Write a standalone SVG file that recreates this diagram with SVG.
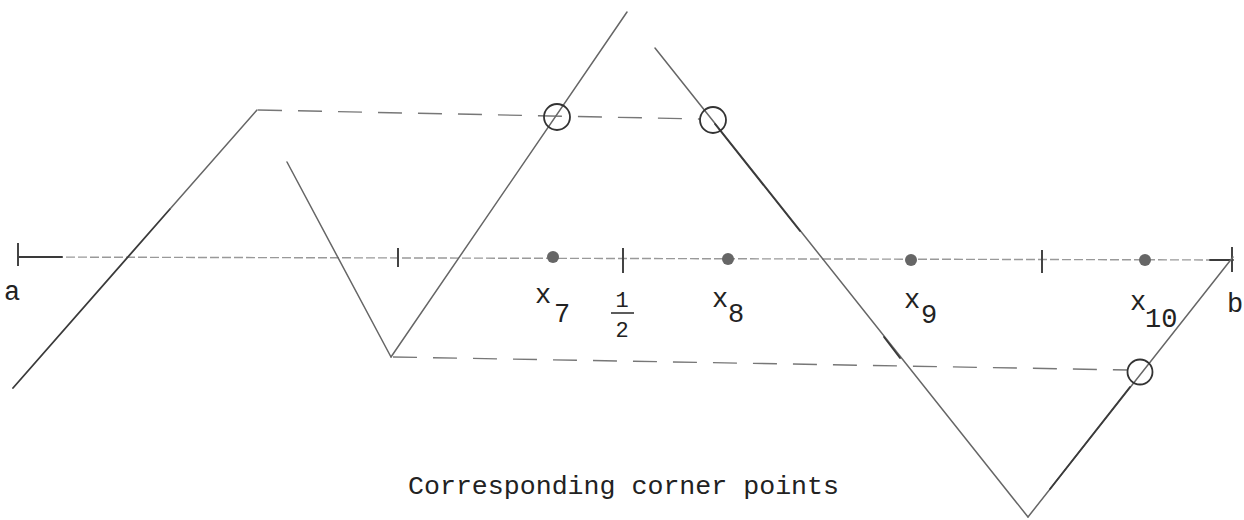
<svg xmlns="http://www.w3.org/2000/svg" width="1244" height="520" viewBox="0 0 1244 520">
<style>
.ln{fill:none;stroke:#666;stroke-width:1.5;stroke-linecap:round}
.dk{fill:none;stroke:#3a3a3a;stroke-width:1.8;stroke-linecap:round}
.dash{fill:none;stroke:#777;stroke-width:1.4;stroke-dasharray:24 16}
.axis{fill:none;stroke:#999;stroke-width:1.4;stroke-dasharray:9 3}
.tick{stroke:#444;stroke-width:2}
.ring{fill:none;stroke:#333;stroke-width:1.8}
.dot{fill:#666}
text{font-family:"Liberation Mono","Courier New",monospace;fill:#222}
.lab{font-size:27px}
.frac{font-size:22px}
.title{font-size:26px}
</style>
<rect width="1244" height="520" fill="#fff"/>
<g id="axis">
<line class="axis" x1="18" y1="257" x2="1233" y2="260"/>
<line class="dk" x1="18" y1="257" x2="62" y2="257"/>
<line class="tick" x1="18" y1="243" x2="18" y2="266"/>
<line class="tick" x1="398" y1="248" x2="398" y2="267"/>
<line class="tick" x1="623" y1="248" x2="623" y2="273"/>
<line class="tick" x1="1042" y1="250" x2="1042" y2="273"/>
<line class="dk" x1="1210" y1="260" x2="1233" y2="260"/>
<line class="tick" x1="1232" y1="247" x2="1232" y2="272"/>
<circle class="dot" cx="553" cy="257" r="6"/>
<circle class="dot" cx="728" cy="259" r="6"/>
<circle class="dot" cx="911" cy="260" r="6"/>
<circle class="dot" cx="1145" cy="260" r="6"/>
</g>
<g id="connectors">
<line class="dk" x1="13" y1="388" x2="170" y2="209"/>
<line class="ln" x1="170" y1="209" x2="257" y2="110"/>
<line class="dash" x1="258" y1="110" x2="700" y2="119"/>
<line class="ln" x1="287" y1="162" x2="391" y2="357"/>
<line class="ln" x1="391" y1="357" x2="627" y2="12"/>
<line class="ln" x1="655" y1="48" x2="1028" y2="517"/>
<line class="dk" x1="715" y1="124" x2="800" y2="231"/>
<line class="dk" x1="884" y1="337" x2="900" y2="358"/>
<line class="dash" x1="393" y1="357" x2="1128" y2="370"/>
<line class="ln" x1="1028" y1="517" x2="1233" y2="257"/>
<line class="dk" x1="1050" y1="489" x2="1130" y2="387"/>
</g>
<g id="corners">
<circle class="ring" cx="557" cy="117" r="13"/>
<circle class="ring" cx="713" cy="120" r="13"/>
<circle class="ring" cx="1140" cy="372" r="12.5"/>
</g>
<g id="labels">
<text class="lab" x="4" y="300">a</text>
<text class="lab" x="1227" y="312">b</text>
<text class="lab" x="535" y="303">x<tspan x="554" y="322">7</tspan></text>
<text class="lab" x="712" y="307">x<tspan x="728" y="322">8</tspan></text>
<text class="lab" x="904" y="308">x<tspan x="921" y="323">9</tspan></text>
<text class="lab" x="1130" y="310">x<tspan x="1145" y="327">10</tspan></text>
<text class="frac" x="622" y="307" text-anchor="middle">1</text>
<line x1="611" y1="313" x2="634" y2="313" stroke="#333" stroke-width="1.6"/>
<text class="frac" x="622" y="337" text-anchor="middle">2</text>
<text class="title" x="408" y="494" textLength="431" lengthAdjust="spacingAndGlyphs">Corresponding corner points</text>
</g>
</svg>
